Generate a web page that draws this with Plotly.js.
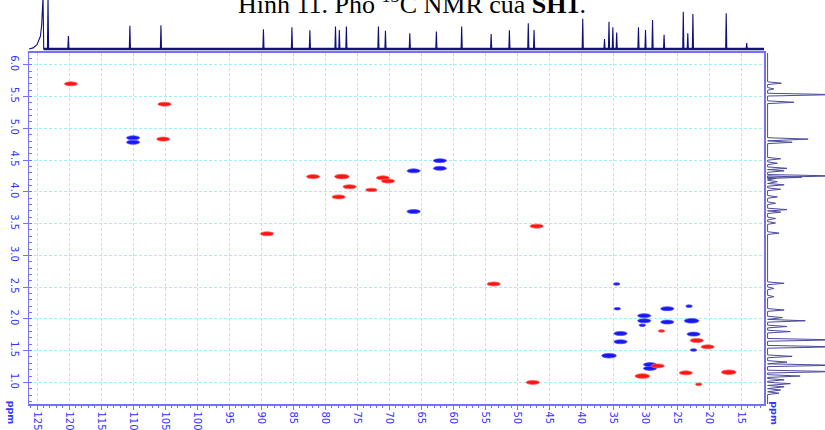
<!DOCTYPE html>
<html>
<head>
<meta charset="utf-8">
<script src="https://cdn.plot.ly/plotly-3.0.1.min.js"></script>
<style>html,body{margin:0;padding:0;background:#fff;}#chart{width:825px;height:430px;}</style>
</head>
<body>
<div id="chart"></div>
<script>
// ---- 13C projection (top): peak positions (ppm) and relative heights
const c13Ppm = [123.28, 120.1, 110.5, 105.65, 89.65, 85.2, 82.4, 78.4, 77.8, 76.7, 71.7, 70.6, 66.8, 62.65, 58.7, 54.1, 51.25, 48.3, 47.4, 39.8, 36.4, 35.7, 35.1, 34.5, 31.1, 30.0, 28.9, 27.1, 24.1, 23.4, 22.6, 17.4, 14.2];
const c13Int = [1.4, 0.35, 0.62, 0.64, 0.53, 0.58, 0.50, 0.60, 0.51, 0.60, 0.60, 0.49, 0.42, 0.47, 0.60, 0.40, 0.50, 0.69, 0.51, 0.81, 0.27, 0.73, 0.58, 0.44, 0.58, 0.51, 0.78, 0.38, 1.0, 0.42, 0.94, 0.96, 0.16];
// broad solvent shoulder at the far left of the 13C trace
const humpPpm = [126.25, 125.62, 125.0, 124.47, 124.27, 124.16, 124.06, 123.95];
const humpInt = [0.0, 0.03, 0.115, 0.34, 0.65, 0.97, 1.4, 0.0];

// ---- 1H projection (right): shifts (ppm) and relative heights
const h1Ppm = [5.71, 5.62, 5.53, 5.41, 4.83, 4.78, 4.52, 4.45, 4.37, 4.33, 4.25, 4.23, 4.21, 4.16, 4.11, 4.04, 3.92, 3.82, 3.72, 3.68, 3.58, 3.51, 3.35, 2.56, 2.48, 2.35, 2.14, 2.02, 1.97, 1.88, 1.80, 1.67, 1.56, 1.41, 1.32, 1.27, 1.17, 1.10, 1.04, 0.98, 0.93, 0.88, 0.83];
const h1Int = [0.24, 0.11, 1.2, 0.46, 0.71, 0.43, 0.23, 0.17, 0.34, 0.29, 1.2, 0.6, 0.14, 0.17, 0.29, 0.23, 0.17, 0.14, 0.34, 0.23, 0.14, 0.14, 0.2, 0.29, 0.11, 0.11, 0.29, 0.26, 0.66, 0.34, 0.40, 1.2, 1.2, 0.43, 0.34, 1.2, 1.2, 0.57, 0.29, 0.40, 0.29, 0.23, 0.20];

// ---- HSQC cross peaks: 13C shift, 1H shift, phase (+1 red / -1 blue), relative intensity (1 weak, 2 medium, 3 strong)
const xpC = [119.7, 105.1, 105.3, 110.0, 110.0, 89.1, 81.9, 77.4, 76.2, 77.9, 72.8, 71.0, 70.2, 66.2, 62.1, 62.1, 66.2, 47.0, 53.7, 47.6, 34.5, 34.4, 30.2, 30.2, 26.6, 26.6, 23.2, 22.8, 30.5, 27.5, 33.9, 33.9, 22.5, 22.0, 22.5, 20.3, 35.7, 29.3, 29.3, 28.1, 30.5, 23.7, 17.0, 21.7];
const xpH = [5.70, 5.38, 4.83, 4.85, 4.78, 3.34, 4.24, 4.24, 4.08, 3.92, 4.03, 4.22, 4.17, 4.33, 4.49, 4.37, 3.69, 3.46, 2.55, 1.00, 2.55, 2.16, 2.05, 1.97, 2.16, 1.95, 2.20, 1.97, 1.90, 1.81, 1.77, 1.64, 1.76, 1.66, 1.51, 1.56, 1.42, 1.28, 1.22, 1.26, 1.10, 1.15, 1.16, 0.97];
const xpPhase = [1, 1, 1, -1, -1, 1, 1, 1, 1, 1, 1, 1, 1, -1, -1, -1, -1, 1, 1, 1, -1, -1, -1, -1, -1, -1, -1, -1, -1, 1, -1, -1, -1, 1, -1, 1, -1, -1, -1, 1, 1, 1, 1, 1];
const xpInt = [2, 2, 2, 2, 2, 2, 2, 3, 2, 2, 1.6, 2, 2, 2, 2, 2, 2, 2, 2, 2, 1, 1, 2, 2, 2, 2, 1, 3, 1, 1, 2, 2, 2, 2, 1, 2, 3, 2, 2, 2, 3, 2, 3, 1];

// axis geometry
const xRange = [126.25, 11.5];
const yRange = [0.66, 6.19];
const mainW = 735, mainH = 351.3;         // main plot area size in px
const ppmPerPxX = (xRange[0] - xRange[1]) / mainW;
const ppmPerPxY = (yRange[1] - yRange[0]) / mainH;

// build 13C stick trace
function sticksX(ppm, inten, d) {
  const idx = ppm.map((_, i) => i).sort((a, b) => ppm[b] - ppm[a]);
  const xs = [], ys = [];
  idx.forEach(i => { xs.push(ppm[i] + d, ppm[i], ppm[i] - d); ys.push(0, inten[i], 0); });
  return {xs, ys};
}
const topSticks = sticksX(c13Ppm, c13Int, 0.09);
const topX = humpPpm.concat(topSticks.xs, [xRange[1]]);
const topY = humpInt.concat(topSticks.ys, [0]);

// build 1H stick trace (vertical axis = ppm)
const idxH = h1Ppm.map((_, i) => i).sort((a, b) => h1Ppm[b] - h1Ppm[a]);
const rX = [0], rY = [yRange[1]];
idxH.forEach(i => { const d = 0.022; rY.push(h1Ppm[i] + d, h1Ppm[i], h1Ppm[i] - d); rX.push(0, h1Int[i], 0); });
rX.push(0); rY.push(yRange[0]);

const traces = [
  {x: [humpPpm[humpPpm.length - 1], xRange[1]], y: [0, 0], xaxis: 'x2', yaxis: 'y2', type: 'scatter', mode: 'lines',
   line: {color: '#16167c', width: 2.6}, hoverinfo: 'skip'},
  {x: topX, y: topY, xaxis: 'x2', yaxis: 'y2', type: 'scatter', mode: 'lines',
   line: {color: '#10107a', width: 1.1}, hoverinfo: 'skip'},
  {x: rX, y: rY, xaxis: 'x3', yaxis: 'y3', type: 'scatter', mode: 'lines',
   line: {color: '#4b4b9c', width: 1}, hoverinfo: 'skip'},
  {x: xpC, y: xpH, xaxis: 'x', yaxis: 'y', type: 'scatter', mode: 'markers',
   marker: {size: 1, opacity: 0}, hoverinfo: 'x+y'}
];

const halfW = {1: 3.2, 1.6: 5.8, 2: 6.6, 3: 7.3};
const halfH = {1: 1.3, 1.6: 1.7, 2: 2.0, 3: 2.3};
const shapes = xpC.map((c, i) => {
  const k = xpInt[i];
  const wx = halfW[k] * ppmPerPxX, wy = halfH[k] * ppmPerPxY;
  const red = xpPhase[i] > 0;
  return {type: 'circle', xref: 'x', yref: 'y', layer: 'above',
    x0: c + wx, x1: c - wx, y0: xpH[i] - wy, y1: xpH[i] + wy,
    fillcolor: red ? '#ff1414' : '#1717f0',
    line: {color: red ? 'rgba(255,90,90,0.75)' : 'rgba(80,80,255,0.75)', width: 1}};
});

const axisBlue = '#7272ff';
const tickFont = {family: 'DejaVu Sans', size: 10, color: '#3434ff'};
const layout = {
  width: 825, height: 430,
  margin: {l: 29, r: 0, t: 0, b: 26},
  paper_bgcolor: '#ffffff', plot_bgcolor: '#ffffff',
  showlegend: false,
  xaxis: {domain: [0, 0.92337], range: xRange, anchor: 'y', tick0: 0, dtick: 5,
    ticks: 'outside', ticklen: 4, tickcolor: axisBlue, showline: true, linecolor: axisBlue, linewidth: 1.5,
    mirror: true, showgrid: true, gridcolor: '#9cf2f6', griddash: '3px,2px', gridwidth: 1, zeroline: false,
    tickangle: 90, tickfont: tickFont,
    minor: {dtick: 1, ticks: 'outside', ticklen: 2, tickcolor: axisBlue, showgrid: false}},
  yaxis: {domain: [0, 0.86955], range: yRange, anchor: 'x', tick0: 0, dtick: 0.5, tickformat: '.1f',
    ticks: 'outside', ticklen: 5, tickcolor: axisBlue, showline: true, linecolor: axisBlue, linewidth: 1.5,
    mirror: true, showgrid: true, gridcolor: '#9cf2f6', griddash: '3px,2px', gridwidth: 1, zeroline: false,
    tickangle: 90, tickfont: tickFont,
    minor: {dtick: 0.1, ticks: 'inside', ticklen: 3, tickcolor: axisBlue, showgrid: false}},
  xaxis2: {domain: [0, 0.92337], matches: 'x', anchor: 'y2', visible: false},
  yaxis2: {domain: [0.86955, 1], range: [-0.099, 1.314], anchor: 'x2', visible: false},
  xaxis3: {domain: [0.9245, 1], range: [-0.047, 1.005], anchor: 'y3', visible: false},
  yaxis3: {domain: [0, 0.86955], matches: 'y', anchor: 'x3', visible: false},
  shapes: shapes,
  annotations: [
    {xref: 'paper', yref: 'paper', x: 0.481, y: 0.993, xanchor: 'center', yanchor: 'middle', showarrow: false,
     text: 'Hình 11. Phổ <sup>13</sup>C NMR của <b>SH1</b>.',
     font: {family: 'Liberation Serif', size: 26, color: '#000000'}},
    {xref: 'paper', yref: 'paper', x: -0.022, y: 0.012, xanchor: 'center', yanchor: 'top', showarrow: false,
     text: '<b>ppm</b>', textangle: 90, font: {family: 'DejaVu Sans', size: 9.5, color: '#3434ff'}},
    {xref: 'paper', yref: 'paper', x: 0.937, y: 0.012, xanchor: 'center', yanchor: 'top', showarrow: false,
     text: '<b>ppm</b>', textangle: 90, font: {family: 'DejaVu Sans', size: 9.5, color: '#3434ff'}}
  ]
};

Plotly.newPlot('chart', traces, layout, {displayModeBar: false, staticPlot: true});
</script>
</body>
</html>
